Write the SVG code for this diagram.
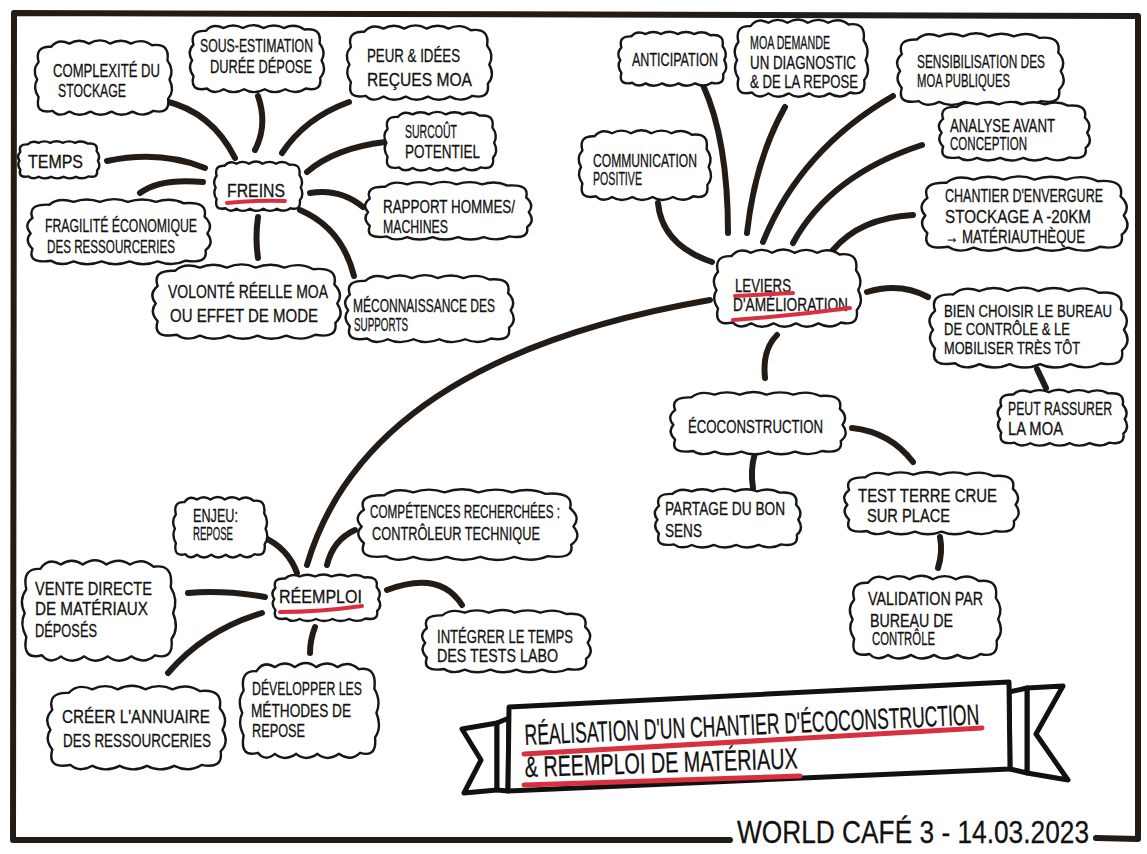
<svg xmlns="http://www.w3.org/2000/svg" width="1147" height="854" viewBox="0 0 1147 854">
<defs>
<style>
.cl{fill:#fff;stroke:#161616;stroke-width:2.4;stroke-linejoin:round}
.t{font-family:"Liberation Sans Narrow","Liberation Sans",Arial,sans-serif;font-size:18px;fill:#121212;stroke:#121212;stroke-width:0.3}
.m{text-anchor:middle}
.s{font-size:17px}
.c{fill:none;stroke:#231b16;stroke-width:6;stroke-linecap:round}
.u{fill:none;stroke:#d9303f;stroke-width:4;stroke-linecap:round}
.fr{fill:none;stroke:#231b16;stroke-width:6;stroke-linejoin:round;stroke-linecap:round}
.bn{fill:#fff;stroke:#111;stroke-width:5;stroke-linejoin:round}
.tt{font-family:"Liberation Sans Narrow","Liberation Sans",Arial,sans-serif;font-size:29px;fill:#111;stroke:#111;stroke-width:0.3}
</style>
<path id="cloud" vector-effect="non-scaling-stroke" d="M6,52 Q-2,40 8,30 Q2,10 26,11 Q36,0 52,7 Q66,0 80,7 Q96,-1 110,7 Q126,0 140,7 Q156,0 170,9 Q196,6 192,28 Q202,40 195,52 Q203,66 193,76 Q196,96 172,91 Q158,100 142,92 Q126,100 112,92 Q96,100 82,92 Q66,100 52,92 Q38,100 28,91 Q2,96 8,74 Q-1,62 6,52 Z"/>
</defs>
<rect width="1147" height="854" fill="#fff"/>
<g id="frame">
<path class="fr" d="M730,840 L13,840 L14,13 L1138,16 L1138,839 L1096,838"/>
<text x="1089" y="843" text-anchor="end" textLength="352" lengthAdjust="spacingAndGlyphs" style="font-family:'Liberation Sans Narrow','Liberation Sans',Arial,sans-serif;font-size:31px;fill:#111;stroke:#111;stroke-width:0.3">WORLD CAFÉ 3 - 14.03.2023</text>
</g>
<g id="connectors">
<path class="c" d="M165,101 Q212,112 235,158"/>
<path class="c" d="M258,96 Q268,125 255,150"/>
<path class="c" d="M349,102 Q305,118 282,153"/>
<path class="c" d="M385,142 Q335,148 307,172"/>
<path class="c" d="M363,207 Q340,188 310,193"/>
<path class="c" d="M354,276 Q342,228 300,210"/>
<path class="c" d="M258,217 Q255,238 258,258"/>
<path class="c" d="M140,193 Q160,178 203,182"/>
<path class="c" d="M107,161 Q160,150 205,168"/>
<path class="c" d="M703,85 Q728,140 728,233"/>
<path class="c" d="M785,107 Q755,160 747,233"/>
<path class="c" d="M893,96 Q800,150 763,242"/>
<path class="c" d="M922,145 Q830,175 793,243"/>
<path class="c" d="M913,215 Q860,218 833,250"/>
<path class="c" d="M658,203 Q662,245 712,262"/>
<path class="c" d="M867,292 Q900,282 928,297"/>
<path class="c" d="M1037,369 L1046,388"/>
<path class="c" d="M777,335 Q762,350 765,378"/>
<path class="c" d="M755,453 Q750,470 753,488"/>
<path class="c" d="M852,428 Q890,432 913,462"/>
<path class="c" d="M940,537 Q943,552 938,568"/>
<path class="c" d="M307,565 C335,470 420,350 710,300"/>
<path class="c" d="M263,537 Q288,548 297,573"/>
<path class="c" d="M355,530 Q333,540 327,565"/>
<path class="c" d="M188,593 Q225,590 265,597"/>
<path class="c" d="M168,673 Q205,630 262,613"/>
<path class="c" d="M310,653 Q310,640 315,627"/>
<path class="c" d="M387,590 Q440,570 462,605"/>
</g>
<g id="freins">
<use href="#cloud" class="cl" transform="translate(213,160) scale(0.45,0.53)"/>
<text class="t" x="227" y="197" textLength="58" lengthAdjust="spacingAndGlyphs">FREINS</text>
<path class="u" d="M227,203 Q256,200 285,201"/>
</g>
<g id="complexite">
<use href="#cloud" class="cl" transform="translate(33,38) scale(0.70,0.80)"/>
<text class="t" x="53" y="77" textLength="107" lengthAdjust="spacingAndGlyphs">COMPLEXITÉ DU</text>
<text class="t" x="58" y="97" textLength="68" lengthAdjust="spacingAndGlyphs">STOCKAGE</text>
</g>
<g id="sous-estimation">
<use href="#cloud" class="cl" transform="translate(188,23) scale(0.685,0.72)"/>
<text class="t" x="200" y="52" textLength="113" lengthAdjust="spacingAndGlyphs">SOUS-ESTIMATION</text>
<text class="t" x="210" y="73" textLength="102" lengthAdjust="spacingAndGlyphs">DURÉE DÉPOSE</text>
</g>
<g id="peur">
<use href="#cloud" class="cl" transform="translate(345,23) scale(0.74,0.80)"/>
<text class="t" x="367" y="62" textLength="93" lengthAdjust="spacingAndGlyphs">PEUR &amp; IDÉES</text>
<text class="t" x="367" y="86" textLength="105" lengthAdjust="spacingAndGlyphs">REÇUES MOA</text>
</g>
<g id="surcout">
<use href="#cloud" class="cl" transform="translate(383,110) scale(0.57,0.63)"/>
<text class="t" x="405" y="138" textLength="52" lengthAdjust="spacingAndGlyphs">SURCOÛT</text>
<text class="t" x="405" y="158" textLength="75" lengthAdjust="spacingAndGlyphs">POTENTIEL</text>
</g>
<g id="rapport">
<use href="#cloud" class="cl" transform="translate(363,180) scale(0.85,0.62)"/>
<text class="t" x="383" y="213" textLength="132" lengthAdjust="spacingAndGlyphs">RAPPORT HOMMES/</text>
<text class="t" x="383" y="233" textLength="65" lengthAdjust="spacingAndGlyphs">MACHINES</text>
</g>
<g id="meconnaissance">
<use href="#cloud" class="cl" transform="translate(343,273) scale(0.86,0.72)"/>
<text class="t" x="353" y="312" textLength="142" lengthAdjust="spacingAndGlyphs">MÉCONNAISSANCE DES</text>
<text class="t" x="354" y="331" textLength="54" lengthAdjust="spacingAndGlyphs">SUPPORTS</text>
</g>
<g id="volonte">
<use href="#cloud" class="cl" transform="translate(150,262) scale(0.96,0.80)"/>
<text class="t" x="168" y="298" textLength="160" lengthAdjust="spacingAndGlyphs">VOLONTÉ RÉELLE MOA</text>
<text class="t" x="170" y="322" textLength="148" lengthAdjust="spacingAndGlyphs">OU EFFET DE MODE</text>
</g>
<g id="fragilite">
<use href="#cloud" class="cl" transform="translate(25,197) scale(0.935,0.70)"/>
<text class="t" x="45" y="232" textLength="152" lengthAdjust="spacingAndGlyphs">FRAGILITÉ ÉCONOMIQUE</text>
<text class="t" x="47" y="253" textLength="128" lengthAdjust="spacingAndGlyphs">DES RESSOURCERIES</text>
</g>
<g id="temps">
<use href="#cloud" class="cl" transform="translate(17,140) scale(0.415,0.40)"/>
<text class="t" x="28" y="168" textLength="55" lengthAdjust="spacingAndGlyphs">TEMPS</text>
</g>
<g id="leviers">
<use href="#cloud" class="cl" transform="translate(712,247) scale(0.75,0.83)"/>
<text class="t" x="735" y="292" textLength="56" lengthAdjust="spacingAndGlyphs">LEVIERS</text>
<text class="t" x="733" y="311" textLength="115" lengthAdjust="spacingAndGlyphs">D'AMÉLIORATION</text>
<path class="u" d="M735,296 L793,293"/>
<path class="u" d="M733,320 Q790,316 850,308"/>
</g>
<g id="anticipation">
<use href="#cloud" class="cl" transform="translate(617,30) scale(0.55,0.58)"/>
<text class="t" x="632" y="66" textLength="86" lengthAdjust="spacingAndGlyphs">ANTICIPATION</text>
</g>
<g id="moa-demande">
<use href="#cloud" class="cl" transform="translate(733,17) scale(0.68,0.83)"/>
<text class="t" x="750" y="49" textLength="80" lengthAdjust="spacingAndGlyphs">MOA DEMANDE</text>
<text class="t" x="750" y="69" textLength="106" lengthAdjust="spacingAndGlyphs">UN DIAGNOSTIC</text>
<text class="t" x="750" y="88" textLength="108" lengthAdjust="spacingAndGlyphs">&amp; DE LA REPOSE</text>
</g>
<g id="sensibilisation">
<use href="#cloud" class="cl" transform="translate(895,31) scale(0.85,0.77)"/>
<text class="t m" x="981" y="68" textLength="128" lengthAdjust="spacingAndGlyphs">SENSIBILISATION DES</text>
<text class="t m" x="963.5" y="87" textLength="93" lengthAdjust="spacingAndGlyphs">MOA PUBLIQUES</text>
</g>
<g id="analyse">
<use href="#cloud" class="cl" transform="translate(937,100) scale(0.77,0.63)"/>
<text class="t m" x="1002.5" y="132" textLength="105" lengthAdjust="spacingAndGlyphs">ANALYSE AVANT</text>
<text class="t m" x="988.5" y="150" textLength="77" lengthAdjust="spacingAndGlyphs">CONCEPTION</text>
</g>
<g id="chantier">
<use href="#cloud" class="cl" transform="translate(919,174) scale(1.05,0.80)"/>
<text class="t m" x="1024" y="202" textLength="158" lengthAdjust="spacingAndGlyphs">CHANTIER D'ENVERGURE</text>
<text class="t m" x="1018" y="223" textLength="146" lengthAdjust="spacingAndGlyphs">STOCKAGE A -20KM</text>
<text class="t m" x="1015" y="243" textLength="140" lengthAdjust="spacingAndGlyphs">→ MATÉRIAUTHÈQUE</text>
</g>
<g id="communication">
<use href="#cloud" class="cl" transform="translate(577,128) scale(0.675,0.75)"/>
<text class="t" x="593" y="167" textLength="104" lengthAdjust="spacingAndGlyphs">COMMUNICATION</text>
<text class="t" x="593" y="185" textLength="49" lengthAdjust="spacingAndGlyphs">POSITIVE</text>
</g>
<g id="bureau-controle">
<use href="#cloud" class="cl" transform="translate(927,285) scale(1.01,0.86)"/>
<text class="t m s" x="1028" y="317" textLength="168" lengthAdjust="spacingAndGlyphs">BIEN CHOISIR LE BUREAU</text>
<text class="t m s" x="1007" y="335" textLength="126" lengthAdjust="spacingAndGlyphs">DE CONTRÔLE &amp; LE</text>
<text class="t m s" x="1012" y="354" textLength="136" lengthAdjust="spacingAndGlyphs">MOBILISER TRÈS TÔT</text>
</g>
<g id="rassurer">
<use href="#cloud" class="cl" transform="translate(996,388) scale(0.66,0.60)"/>
<text class="t m" x="1060" y="415" textLength="104" lengthAdjust="spacingAndGlyphs">PEUT RASSURER</text>
<text class="t m" x="1035.5" y="435" textLength="55" lengthAdjust="spacingAndGlyphs">LA MOA</text>
</g>
<g id="ecoconstruction">
<use href="#cloud" class="cl" transform="translate(668,390) scale(0.895,0.67)"/>
<text class="t" x="688" y="433" textLength="135" lengthAdjust="spacingAndGlyphs">ÉCOCONSTRUCTION</text>
</g>
<g id="partage">
<use href="#cloud" class="cl" transform="translate(653,487) scale(0.745,0.63)"/>
<text class="t" x="665" y="515" textLength="120" lengthAdjust="spacingAndGlyphs">PARTAGE DU BON</text>
<text class="t" x="665" y="537" textLength="37" lengthAdjust="spacingAndGlyphs">SENS</text>
</g>
<g id="test-terre">
<use href="#cloud" class="cl" transform="translate(842,470) scale(0.89,0.67)"/>
<text class="t" x="858" y="502" textLength="139" lengthAdjust="spacingAndGlyphs">TEST TERRE CRUE</text>
<text class="t" x="867" y="522" textLength="83" lengthAdjust="spacingAndGlyphs">SUR PLACE</text>
</g>
<g id="validation">
<use href="#cloud" class="cl" transform="translate(848,573) scale(0.77,0.89)"/>
<text class="t" x="868" y="605" textLength="115" lengthAdjust="spacingAndGlyphs">VALIDATION PAR</text>
<text class="t" x="870" y="627" textLength="83" lengthAdjust="spacingAndGlyphs">BUREAU DE</text>
<text class="t" x="872" y="645" textLength="63" lengthAdjust="spacingAndGlyphs">CONTRÔLE</text>
</g>
<g id="reemploi">
<use href="#cloud" class="cl" transform="translate(271,573) scale(0.55,0.50)"/>
<text class="t" x="279" y="603" textLength="83" lengthAdjust="spacingAndGlyphs">RÉEMPLOI</text>
<path class="u" d="M280,612 Q320,612 362,606"/>
</g>
<g id="enjeu">
<use href="#cloud" class="cl" transform="translate(172,495) scale(0.48,0.65)"/>
<text class="t" x="193" y="522" textLength="45" lengthAdjust="spacingAndGlyphs">ENJEU:</text>
<text class="t" x="193" y="540" textLength="40" lengthAdjust="spacingAndGlyphs">REPOSE</text>
</g>
<g id="vente">
<use href="#cloud" class="cl" transform="translate(20,557) scale(0.785,1.08)"/>
<text class="t" x="35" y="595" textLength="117" lengthAdjust="spacingAndGlyphs">VENTE DIRECTE</text>
<text class="t" x="35" y="615" textLength="113" lengthAdjust="spacingAndGlyphs">DE MATÉRIAUX</text>
<text class="t" x="35" y="637" textLength="62" lengthAdjust="spacingAndGlyphs">DÉPOSÉS</text>
</g>
<g id="annuaire">
<use href="#cloud" class="cl" transform="translate(45,683) scale(0.91,0.90)"/>
<text class="t" x="62" y="723" textLength="148" lengthAdjust="spacingAndGlyphs">CRÉER L'ANNUAIRE</text>
<text class="t" x="63" y="747" textLength="148" lengthAdjust="spacingAndGlyphs">DES RESSOURCERIES</text>
</g>
<g id="developper">
<use href="#cloud" class="cl" transform="translate(238,660) scale(0.71,1.02)"/>
<text class="t" x="252" y="695" textLength="110" lengthAdjust="spacingAndGlyphs">DÉVELOPPER LES</text>
<text class="t" x="251" y="717" textLength="100" lengthAdjust="spacingAndGlyphs">MÉTHODES DE</text>
<text class="t" x="252" y="737" textLength="53" lengthAdjust="spacingAndGlyphs">REPOSE</text>
</g>
<g id="competences">
<use href="#cloud" class="cl" transform="translate(355,487) scale(1.12,0.76)"/>
<text class="t" x="370" y="518" textLength="190" lengthAdjust="spacingAndGlyphs">COMPÉTENCES RECHERCHÉES :</text>
<text class="t" x="372" y="540" textLength="168" lengthAdjust="spacingAndGlyphs">CONTRÔLEUR TECHNIQUE</text>
</g>
<g id="integrer">
<use href="#cloud" class="cl" transform="translate(420,608) scale(0.86,0.67)"/>
<text class="t" x="437" y="643" textLength="136" lengthAdjust="spacingAndGlyphs">INTÉGRER LE TEMPS</text>
<text class="t" x="437" y="662" textLength="121" lengthAdjust="spacingAndGlyphs">DES TESTS LABO</text>
</g>
<g id="title">
<path class="bn" d="M497,723 L462,729 L481,760 L464,793 L497,790 Z"/>
<path class="bn" d="M509,718 L497,723 L497,790 L508,791 Z"/>
<path class="bn" d="M1027,688 L1063,686 L1036,734 L1068,780 L1027,773 Z"/>
<path class="bn" d="M1009,692 L1027,688 L1027,773 L1010,769 Z"/>
<path class="bn" d="M509,707 L1009,682 L1010,769 L508,791 Z"/>
<text class="tt" x="525" y="745" textLength="455" lengthAdjust="spacingAndGlyphs" transform="rotate(-2.6 525 745)">RÉALISATION D'UN CHANTIER D'ÉCOCONSTRUCTION</text>
<text class="tt" x="525" y="777" textLength="273" lengthAdjust="spacingAndGlyphs" transform="rotate(-1.8 525 777)">&amp; RÉEMPLOI DE MATÉRIAUX</text>
<path class="u" style="stroke-width:5" d="M524,754 L982,728"/>
<path class="u" style="stroke-width:5" d="M524,785 L800,776"/>
</g>
</svg>
